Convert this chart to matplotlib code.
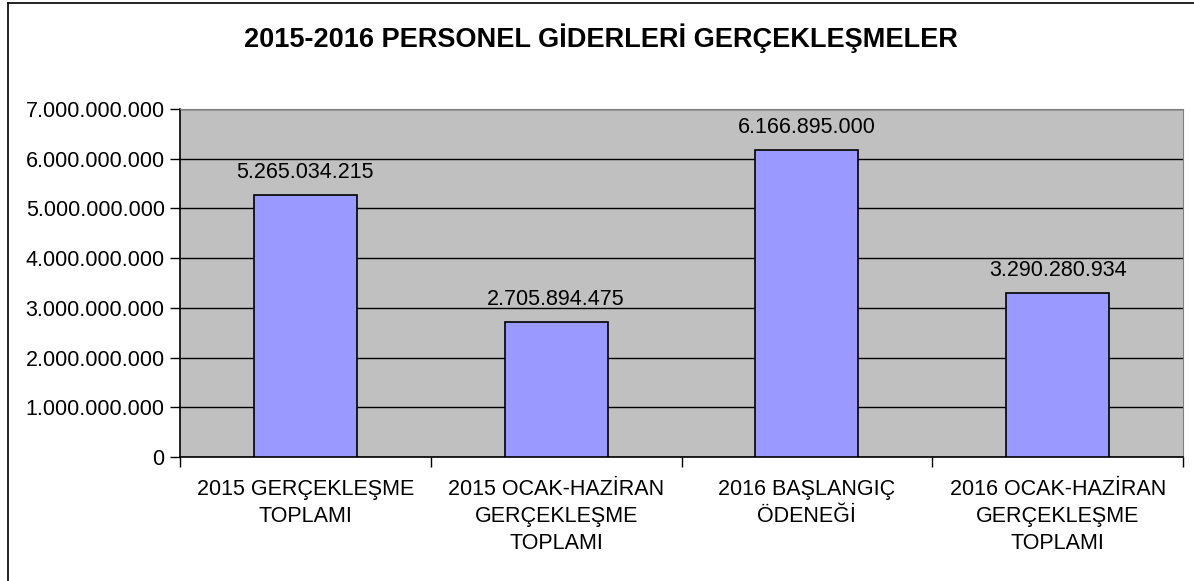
import matplotlib
matplotlib.use("Agg")
import matplotlib.pyplot as plt
from matplotlib.ticker import FuncFormatter, MultipleLocator
from matplotlib.lines import Line2D

plt.rcParams['font.family'] = ['Liberation Sans', 'DejaVu Sans']

categories = ["2015 GERÇEKLEŞME\nTOPLAMI",
              "2015 OCAK-HAZİRAN\nGERÇEKLEŞME\nTOPLAMI",
              "2016 BAŞLANGIÇ\nÖDENEĞİ",
              "2016 OCAK-HAZİRAN\nGERÇEKLEŞME\nTOPLAMI"]
values = [5265034215, 2705894475, 6166895000, 3290280934]
title = "2015-2016 PERSONEL GİDERLERİ GERÇEKLEŞMELER"


def dotted(v, pos=None):
    return f"{int(round(v)):,}".replace(",", ".")


W, H = 1194, 581
fig = plt.figure(figsize=(W / 100, H / 100), dpi=100)
fig.patch.set_facecolor('white')

# outer frame (only top/left visible in the reference)
fig.add_artist(Line2D([7.5 / W, 7.5 / W], [0, 1 - 2.5 / H], color='black', lw=1.2))
fig.add_artist(Line2D([7.5 / W, 1], [1 - 2.5 / H, 1 - 2.5 / H], color='black', lw=1.2))

ax = fig.add_axes([180 / W, 1 - 457 / H, (1183 - 180) / W, (457 - 109) / H])
ax.set_facecolor('#C0C0C0')

x = range(len(values))
ax.bar(x, values, width=0.41, color='#9999FF', edgecolor='black', linewidth=1.2, zorder=3)

ax.set_xlim(-0.5, len(values) - 0.5)
ax.set_ylim(0, 7e9)
ax.yaxis.set_major_locator(MultipleLocator(1e9))
ax.yaxis.set_major_formatter(FuncFormatter(dotted))
ax.grid(axis='y', color='black', lw=1.0, zorder=1)

ax.set_xticks([i - 0.5 for i in range(len(values) + 1)])
ax.set_xticklabels([])
ax.set_xticks(list(x), minor=True)
ax.set_xticklabels(categories, minor=True, fontsize=15.5, linespacing=1.38)
ax.tick_params(axis='x', which='minor', length=0, pad=16)
ax.tick_params(axis='x', which='major', length=7, width=1, color='black')
ax.tick_params(axis='y', length=7, width=1, labelsize=15.5, pad=4)

for side in ['top', 'right']:
    ax.spines[side].set_color('#808080')
for side in ['left', 'bottom']:
    ax.spines[side].set_color('black')
    ax.spines[side].set_linewidth(1.2)

for i, v in enumerate(values):
    ax.annotate(dotted(v), (i, v), xytext=(0, 17), textcoords='offset pixels',
                ha='center', va='baseline', fontsize=15.5)

fig.text(601 / W, 1 - 38 / H, title, ha='center', va='center',
         fontsize=19.5, fontweight='bold')

fig.savefig("out.png", dpi=100)
